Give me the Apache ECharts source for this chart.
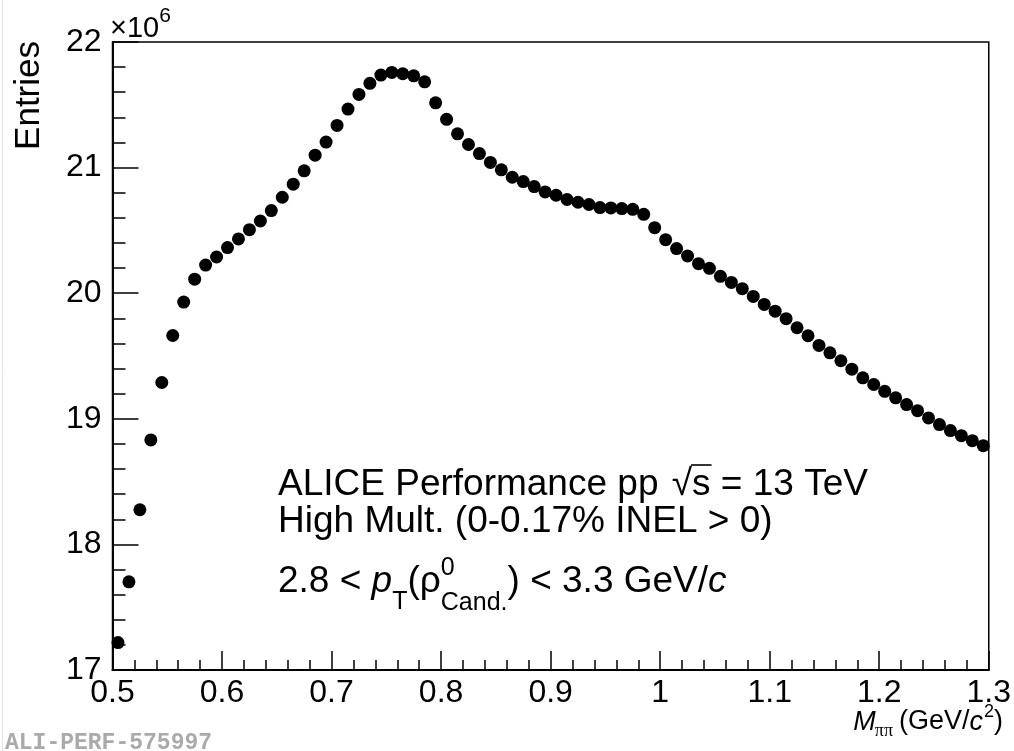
<!DOCTYPE html>
<html>
<head>
<meta charset="utf-8">
<script src="https://cdn.jsdelivr.net/npm/echarts@6/dist/echarts.min.js"></script>
<style>
  html, body { margin: 0; padding: 0; background: #fff; }
  #chart { width: 1014px; height: 751px; }
</style>
</head>
<body>
<div id="chart"></div>
<script>
// Invariant-mass bin centres, GeV/c^2 (10 MeV bins)
const massBins = [
  0.505, 0.515, 0.525, 0.535, 0.545, 0.555, 0.565, 0.575, 0.585, 0.595,
  0.605, 0.615, 0.625, 0.635, 0.645, 0.655, 0.665, 0.675, 0.685, 0.695,
  0.705, 0.715, 0.725, 0.735, 0.745, 0.755, 0.765, 0.775, 0.785, 0.795,
  0.805, 0.815, 0.825, 0.835, 0.845, 0.855, 0.865, 0.875, 0.885, 0.895,
  0.905, 0.915, 0.925, 0.935, 0.945, 0.955, 0.965, 0.975, 0.985, 0.995,
  1.005, 1.015, 1.025, 1.035, 1.045, 1.055, 1.065, 1.075, 1.085, 1.095,
  1.105, 1.115, 1.125, 1.135, 1.145, 1.155, 1.165, 1.175, 1.185, 1.195,
  1.205, 1.215, 1.225, 1.235, 1.245, 1.255, 1.265, 1.275, 1.285, 1.295
];

// Entries per bin, in units of 10^6
const entriesMillions = [
  17.218, 17.702, 18.276, 18.832, 19.289, 19.663, 19.929, 20.112, 20.224, 20.288,
  20.363, 20.432, 20.506, 20.575, 20.658, 20.764, 20.868, 20.974, 21.099, 21.203,
  21.336, 21.466, 21.583, 21.671, 21.737, 21.758, 21.747, 21.731, 21.683, 21.516,
  21.384, 21.269, 21.184, 21.112, 21.041, 20.982, 20.923, 20.889, 20.849, 20.806,
  20.780, 20.746, 20.724, 20.706, 20.682, 20.679, 20.674, 20.668, 20.628, 20.522,
  20.426, 20.355, 20.296, 20.235, 20.198, 20.134, 20.086, 20.036, 19.974, 19.911,
  19.857, 19.797, 19.725, 19.661, 19.584, 19.525, 19.462, 19.395, 19.326, 19.273,
  19.219, 19.167, 19.113, 19.065, 19.007, 18.954, 18.906, 18.866, 18.826, 18.786
];

const xTickLabels = ['0.5', '0.6', '0.7', '0.8', '0.9', '1', '1.1', '1.2', '1.3'];
const yTickLabels = ['17', '18', '19', '20', '21', '22'];

const SANS = '"Liberation Sans", Arial, Helvetica, sans-serif';
const SERIF = '"Liberation Serif", "Times New Roman", serif';

const points = massBins.map((m, i) => [m, entriesMillions[i]]);

// text measurement for laying out mixed italic / sub / superscript runs
const measureCtx = document.createElement('canvas').getContext('2d');
function runWidth(r) {
  measureCtx.font = (r.italic ? 'italic ' : '') + r.size + 'px ' + (r.family || SANS);
  return measureCtx.measureText(r.t).width;
}
function runsWidth(runs) {
  let w = 0;
  runs.forEach(r => { if (!r.stack) w += runWidth(r) + (r.gap || 0); });
  return w;
}
function layoutRuns(runs, x0, yMid) {
  const els = [];
  let x = x0;
  runs.forEach(r => {
    els.push({
      type: 'text', x: x, y: yMid + (r.dy || 0), z: 100, silent: true,
      style: {
        text: r.t, fontSize: r.size, fontFamily: r.family || SANS,
        fontStyle: r.italic ? 'italic' : 'normal',
        fill: r.color || '#000', align: 'left', verticalAlign: 'middle'
      }
    });
    r.x = x;
    if (!r.stack) x += runWidth(r) + (r.gap || 0);
  });
  return { els: els, end: x };
}

const graphics = [];

// Physics labels inside the frame
const L = 37, S = 25;
const line1 = [
  { t: 'ALICE Performance pp ', size: L, gap: 3 },
  { t: '\u221A', size: L },
  { t: 's', size: L },
  { t: ' = 13 TeV', size: L }
];
graphics.push(...layoutRuns(line1, 278, 484.5).els);
// overbar of the square root
graphics.push({
  type: 'line', z: 100, silent: true,
  shape: { x1: line1[2].x - 1, y1: 465, x2: line1[2].x + runWidth(line1[2]) + 1, y2: 465 },
  style: { stroke: '#000', lineWidth: 1.6 }
});

graphics.push(...layoutRuns([{ t: 'High Mult. (0-0.17% INEL > 0)', size: L }], 278, 522).els);

const line3 = [
  { t: '2.8 < ', size: L },
  { t: 'p', size: L, italic: true },
  { t: 'T', size: S, dy: 20 },
  { t: '(\u03C1', size: L },
  { t: '0', size: S, dy: -14, stack: true },
  { t: 'Cand.', size: S, dy: 21 },
  { t: ') < 3.3 GeV/', size: L },
  { t: 'c', size: L, italic: true }
];
graphics.push(...layoutRuns(line3, 278, 582).els);

// x-axis title, right aligned under the frame
const T = 27, TS = 18;
const xTitle = [
  { t: 'M', size: T, italic: true, gap: -1 },
  { t: '\u03C0\u03C0', size: TS, dy: 9, family: SERIF, gap: 6 },
  { t: '(GeV/', size: T },
  { t: 'c', size: T, italic: true, gap: 1 },
  { t: '2', size: TS, dy: -10 },
  { t: ')', size: T }
];
graphics.push(...layoutRuns(xTitle, 1003 - runsWidth(xTitle), 722).els);

// y-axis title
graphics.push({
  type: 'text', x: 29, y: 41, rotation: Math.PI / 2, z: 100, silent: true,
  style: { text: 'Entries', fontSize: 35, fontFamily: SANS, fill: '#000', align: 'right', verticalAlign: 'middle' }
});

// axis multiplier
graphics.push(...layoutRuns([
  { t: '\u00D710', size: 29 },
  { t: '6', size: 21, dy: -13 }
], 110, 29).els);

// figure identifier
graphics.push({
  type: 'text', x: 5, y: 743, z: 100, silent: true,
  style: { text: 'ALI-PERF-575997', fontSize: 23, fontWeight: 'bold', fontFamily: '"Liberation Mono", "DejaVu Sans Mono", monospace', fill: '#aaaaaa', align: 'left', verticalAlign: 'middle' }
});
// faint page edge
graphics.push({
  type: 'line', z: 1, silent: true,
  shape: { x1: 2.5, y1: 0, x2: 2.5, y2: 751 },
  style: { stroke: '#e4e4e4', lineWidth: 1 }
});

const chart = echarts.init(document.getElementById('chart'), null, { renderer: 'canvas' });
chart.setOption({
  animation: false,
  backgroundColor: '#fff',
  grid: {
    left: 112.5, right: 24.5, top: 42, bottom: 81,
    show: true, borderColor: '#000', borderWidth: 1.5, backgroundColor: 'transparent'
  },
  xAxis: {
    type: 'value', min: 0.5, max: 1.3, interval: 0.1,
    axisLine: { onZero: false, lineStyle: { color: '#000', width: 2 } },
    axisTick: { inside: true, length: 19, lineStyle: { color: '#000', width: 1.5 } },
    minorTick: { show: true, splitNumber: 5, length: 10, lineStyle: { color: '#000', width: 1.5 } },
    splitLine: { show: false },
    minorSplitLine: { show: false },
    axisLabel: {
      color: '#000', fontSize: 32, fontFamily: SANS, margin: 7,
      formatter: v => xTickLabels[Math.round((v - 0.5) * 10)]
    }
  },
  yAxis: {
    type: 'value', min: 17, max: 22, interval: 1,
    axisLine: { onZero: false, lineStyle: { color: '#000', width: 2 } },
    axisTick: { inside: true, length: 26, lineStyle: { color: '#000', width: 1.5 } },
    minorTick: { show: true, splitNumber: 5, length: 13, lineStyle: { color: '#000', width: 1.5 } },
    splitLine: { show: false },
    minorSplitLine: { show: false },
    axisLabel: {
      color: '#000', fontSize: 32, fontFamily: SANS, margin: 11,
      formatter: v => yTickLabels[Math.round(v - 17)]
    }
  },
  series: [{
    type: 'scatter',
    data: points,
    symbol: 'circle',
    symbolSize: 13,
    itemStyle: { color: '#000', opacity: 1 },
    emphasis: { disabled: true },
    z: 5
  }],
  graphic: graphics
});
</script>
</body>
</html>
